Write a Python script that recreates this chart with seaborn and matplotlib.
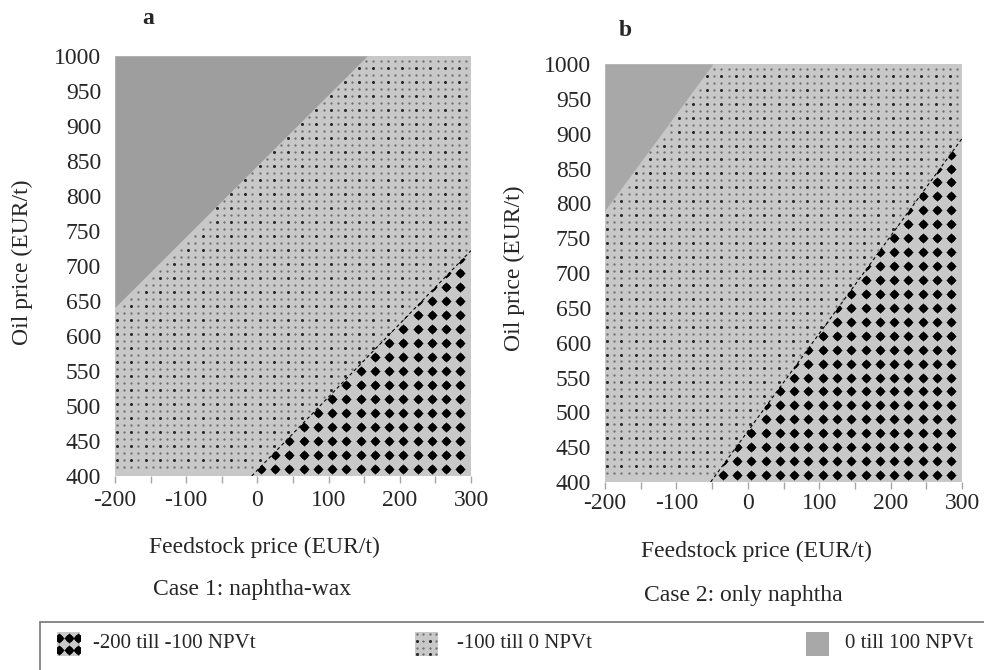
import numpy as np
import matplotlib
matplotlib.use("Agg")
import matplotlib.pyplot as plt
import seaborn as sns
from matplotlib.patches import Rectangle, Polygon

# ---------------- data ----------------
feed_ticks = [-200, -100, 0, 100, 200, 300]
feed_minor = [-200, -150, -100, -50, 0, 50, 100, 150, 200, 250, 300]
oil_ticks = [400, 450, 500, 550, 600, 650, 700, 750, 800, 850, 900, 950, 1000]
feed_range = [-200, 300]
oil_range = [400, 1000]

# contour boundaries (feedstock price, oil price)
a_zero_x = [-200, 154]     # 0 NPVt line, case 1
a_zero_y = [641, 1000]
a_m100_x = [-8, 300]       # -100 NPVt line, case 1
a_m100_y = [400, 722]
b_zero_x = [-200, -49]     # 0 NPVt line, case 2
b_zero_y = [790, 1000]
b_m100_x = [-52, 300]      # -100 NPVt line, case 2
b_m100_y = [400, 893]

panel_letters = ["a", "b"]
case_labels = ["Case 1: naphtha-wax", "Case 2: only naphtha"]
x_label = "Feedstock price (EUR/t)"
y_label = "Oil price (EUR/t)"
legend_labels = ["-200 till -100 NPVt", "-100 till 0 NPVt", "0 till 100 NPVt"]

# ---------------- style ----------------
sns.set_style("white")
plt.rcParams['font.family'] = ['Liberation Serif', 'DejaVu Serif']
FS = 17
LIGHT = "#c8c8c8"
DARK_A = "#9e9e9e"
DARK_B = "#a8a8a8"
TICKC = "#a6a6a6"

W, H = 984, 670
fig = plt.figure(figsize=(W / 100, H / 100), dpi=100)
fig.patch.set_facecolor("white")


def rect(l, t, r, b):
    return [l / W, 1 - b / H, (r - l) / W, (b - t) / H]


def ftext(x, y, s, **kw):
    kw.setdefault("ha", "center")
    kw.setdefault("va", "center")
    kw.setdefault("fontsize", FS)
    fig.text(x / W, 1 - y / H, s, **kw)


def dot_texture(ax, xlo, xhi, ylo, yhi, step_x, step_y, keep=None):
    xs = np.arange(xlo, xhi + 1e-9, step_x)
    ys = np.arange(ylo, yhi + 1e-9, step_y)
    gx, gy = np.meshgrid(xs, ys)
    ix, iy = np.meshgrid(np.arange(len(xs)), np.arange(len(ys)))
    strong = (ix % 2 == 0) & (iy % 2 == 0)
    gx, gy, strong = gx.ravel(), gy.ravel(), strong.ravel()
    if keep is not None:
        m = keep(gx, gy)
        gx, gy, strong = gx[m], gy[m], strong[m]
    ax.scatter(gx[~strong], gy[~strong], s=2.8, c="#707070", linewidths=0, zorder=3)
    ax.scatter(gx[strong], gy[strong], s=4.8, c="#262626", linewidths=0, zorder=3)


def diamond_texture(ax, xlo, xhi, ylo, yhi, step_x, step_y, clip):
    xs = np.arange(xlo, xhi + 1e-9, step_x)
    ys = np.arange(ylo, yhi + 1e-9, step_y)
    gx, gy = np.meshgrid(xs, ys)
    for mk, s in (("o", 29), ("D", 27)):
        sc = ax.scatter(gx.ravel(), gy.ravel(), s=s, marker=mk, c="black",
                        linewidths=0, zorder=4)
        sc.set_clip_path(clip)


def draw_panel(ax, zx, zy, mx, my, dark):
    ax.set_xlim(*feed_range)
    ax.set_ylim(*oil_range)
    ax.set_facecolor(LIGHT)
    for sp in ax.spines.values():
        sp.set_visible(False)

    # 0 till 100 region (upper left)
    ax.fill_between(zx, zy, [oil_range[1]] * len(zx), color=dark, lw=0, zorder=1)

    # -200 till -100 region (lower right)
    lower_poly = Polygon(np.c_[np.r_[mx, feed_range[1], mx[0]],
                               np.r_[my, oil_range[0], oil_range[0]]],
                         closed=True, transform=ax.transData,
                         facecolor=LIGHT, edgecolor="none", zorder=2)
    ax.add_patch(lower_poly)
    diamond_texture(ax, -195, 300, 410, 1000, 20, 20, lower_poly)

    # -100 till 0 region (dotted band)
    def keep(x, y):
        lo = np.interp(x, mx, my, left=oil_range[0], right=my[-1])
        hi = np.interp(x, zx, zy, left=zy[0], right=oil_range[1])
        return (y > lo + 3) & (y < hi - 3)
    dot_texture(ax, -197, 300, 403, 1000, 10, 10, keep)

    # dashed contour line of the -100 boundary
    sns.lineplot(x=mx, y=my, ax=ax, color="black", lw=0.8,
                 linestyle=(0, (3, 2.5)), zorder=5, legend=False)

    ax.set_xticks(feed_ticks)
    ax.set_xticks(feed_minor, minor=True)
    ax.set_yticks(oil_ticks)
    ax.set_xticklabels([str(v) for v in feed_ticks], fontsize=FS)
    ax.set_yticklabels([str(v) for v in oil_ticks], fontsize=FS)
    ax.tick_params(axis="x", which="both", length=5, width=1, color=TICKC,
                   direction="out", bottom=True)
    ax.tick_params(axis="y", which="both", length=0, pad=10)
    ax.set_xlabel("")
    ax.set_ylabel("")


axA = fig.add_axes(rect(115, 56, 471, 476))
axB = fig.add_axes(rect(605, 64, 962, 482))
draw_panel(axA, a_zero_x, a_zero_y, a_m100_x, a_m100_y, DARK_A)
draw_panel(axB, b_zero_x, b_zero_y, b_m100_x, b_m100_y, DARK_B)
axA.tick_params(axis="x", which="major", pad=5)
axB.tick_params(axis="x", which="major", pad=3)

# panel letters and labels
ftext(148, 19, panel_letters[0], fontweight="bold")
ftext(625, 30, panel_letters[1], fontweight="bold")
ftext(22, 262, y_label, rotation=90)
ftext(514, 268, y_label, rotation=90)
ftext(264, 547, x_label)
ftext(756, 551, x_label)
ftext(252, 590, case_labels[0])
ftext(743, 596, case_labels[1])

# ---------------- legend ----------------
fig.patches.append(Rectangle((40 / W, 1 - 700 / H), 960 / W, 78 / H,
                             transform=fig.transFigure, fill=False,
                             edgecolor="#808080", lw=1.3))

patch_x = [57, 415, 806]
text_x = [93, 457, 845]
for i in range(3):
    lax = fig.add_axes(rect(patch_x[i], 632, patch_x[i] + 23, 656))
    lax.set_xlim(0, 30)
    lax.set_ylim(0, 30)
    lax.set_axis_off()
    lax.add_patch(Rectangle((0, 0), 30, 30, facecolor=LIGHT if i < 2 else DARK_B,
                            edgecolor="none", zorder=1))
    if i == 0:
        clip = Rectangle((0, 0), 30, 30, transform=lax.transData, facecolor="none",
                         edgecolor="none")
        lax.add_patch(clip)
        diamond_texture(lax, 3, 30, 7, 30, 12, 16, clip)
    elif i == 1:
        dot_texture(lax, 2, 30, 2, 30, 8.5, 8.5)
    ftext(text_x[i], 643, legend_labels[i], ha="left", fontsize=15)

fig.savefig("out.png", dpi=100, facecolor="white")
